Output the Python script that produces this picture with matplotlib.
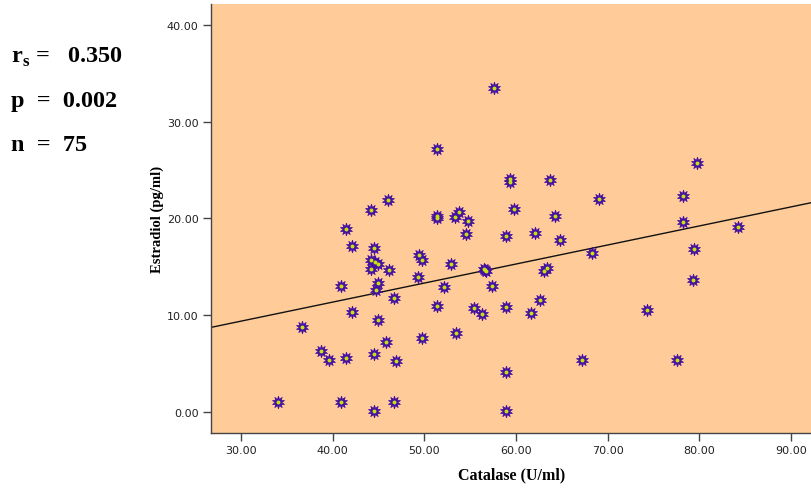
#!/usr/bin/env python3
"""Scatter of estradiol against catalase with a linear fit line (SPSS style)."""

import matplotlib

matplotlib.use("Agg")
import matplotlib.pyplot as plt
import numpy as np

# Catalase (U/ml) and estradiol (pg/ml)
catalase = [
    34.0, 40.95, 44.5, 46.7, 58.9, 58.9, 67.2, 77.6, 36.7, 38.7,
    39.6, 41.5, 44.5, 45.8, 46.9, 49.8, 53.5, 42.1, 44.9, 40.95,
    44.7, 44.9, 46.7, 51.4, 52.1, 49.3, 55.4, 56.3, 58.9, 61.6,
    62.6, 57.4, 74.3, 79.3, 56.7, 56.5, 63.05, 63.35, 52.9, 49.8,
    49.45, 44.2, 44.9, 44.2, 46.2, 44.5, 42.1, 41.5, 44.2, 46.0,
    51.4, 51.35, 53.8, 53.4, 54.8, 54.6, 58.9, 59.8, 62.1, 64.8,
    64.3, 68.3, 79.4, 78.2, 84.2, 78.2, 79.8, 69.1, 63.7, 59.35,
    59.3, 51.4, 57.6, 44.6, 56.6,
]
estradiol = [
    0.95, 0.95, 0.02, 0.95, 0.02, 4.12, 5.36, 5.36, 8.71, 6.29,
    5.36, 5.54, 5.95, 7.22, 5.19, 7.57, 8.12, 10.26, 9.5, 12.95,
    12.6, 13.3, 11.74, 10.95, 12.85, 13.9, 10.68, 10.05, 10.85, 10.19,
    11.57, 12.95, 10.53, 13.64, 14.57, 14.74, 14.57, 14.9, 15.23, 15.7,
    16.2, 15.7, 15.26, 14.74, 14.67, 16.9, 17.15, 18.85, 20.9, 21.9,
    20.26, 20.0, 20.67, 20.15, 19.74, 18.37, 18.2, 20.95, 18.47, 17.74,
    20.26, 16.37, 16.78, 19.64, 19.12, 22.33, 25.68, 21.95, 23.95, 24.1,
    23.7, 27.2, 33.47, 15.5, 14.6,
]

# fit line as drawn in the reference
fit_intercept = 3.44
fit_slope = 0.197

x_ticks = [30, 40, 50, 60, 70, 80, 90]
y_ticks = [0, 10, 20, 30, 40]

stats_lines = [r"r$_\mathregular{s}$ =   0.350", "p  =  0.002", "n  =  75"]

BG = "#FFCC99"
STAR = "#4410A0"
CENTER = "#C6E214"
AXIS = "#444444"

fig = plt.figure(figsize=(8.12, 4.89), dpi=100)
ax = fig.add_axes([211 / 812, 1 - 434 / 489, 602 / 812, 429 / 489])
ax.set_facecolor(BG)

ax.set_xlim(26.73, 92.4)
ax.set_ylim(-2.22, 42.16)

line_x = np.array(ax.get_xlim())
ax.plot(line_x, fit_intercept + fit_slope * line_x, color="#111111", linewidth=1.0, zorder=2)

ax.scatter(catalase, estradiol, marker=(10, 1, 0), s=80, color=STAR,
           edgecolors=STAR, linewidths=0.6, zorder=3)
ax.scatter(catalase, estradiol, marker="o", s=8, color=CENTER, linewidths=0, zorder=4)

ax.set_xticks(x_ticks)
ax.set_yticks(y_ticks)
ax.set_xticklabels([f"{v:.2f}" for v in x_ticks])
ax.set_yticklabels([f"{v:.2f}" for v in y_ticks])
ax.tick_params(direction="out", length=6, width=1.0, color=AXIS,
               labelsize=8, labelcolor="#222222", pad=3)

for side in ("left", "bottom"):
    ax.spines[side].set_color(AXIS)
    ax.spines[side].set_linewidth(1.0)
ax.spines["top"].set_visible(False)
ax.spines["right"].set_visible(False)

ax.set_xlabel("Catalase (U/ml)", family="Liberation Serif", fontweight="bold",
              fontsize=11.5, labelpad=8)
ax.set_ylabel("Estradiol (pg/ml)", family="Liberation Serif", fontweight="bold",
              fontsize=10.5, labelpad=2)

for i, txt in enumerate(stats_lines):
    fig.text(11 / 812, 1 - (63 + 44 * i) / 489, txt, family="Liberation Serif",
             fontweight="bold", fontsize=17.5, color="black", va="baseline")

fig.savefig("out.png", dpi=100)
